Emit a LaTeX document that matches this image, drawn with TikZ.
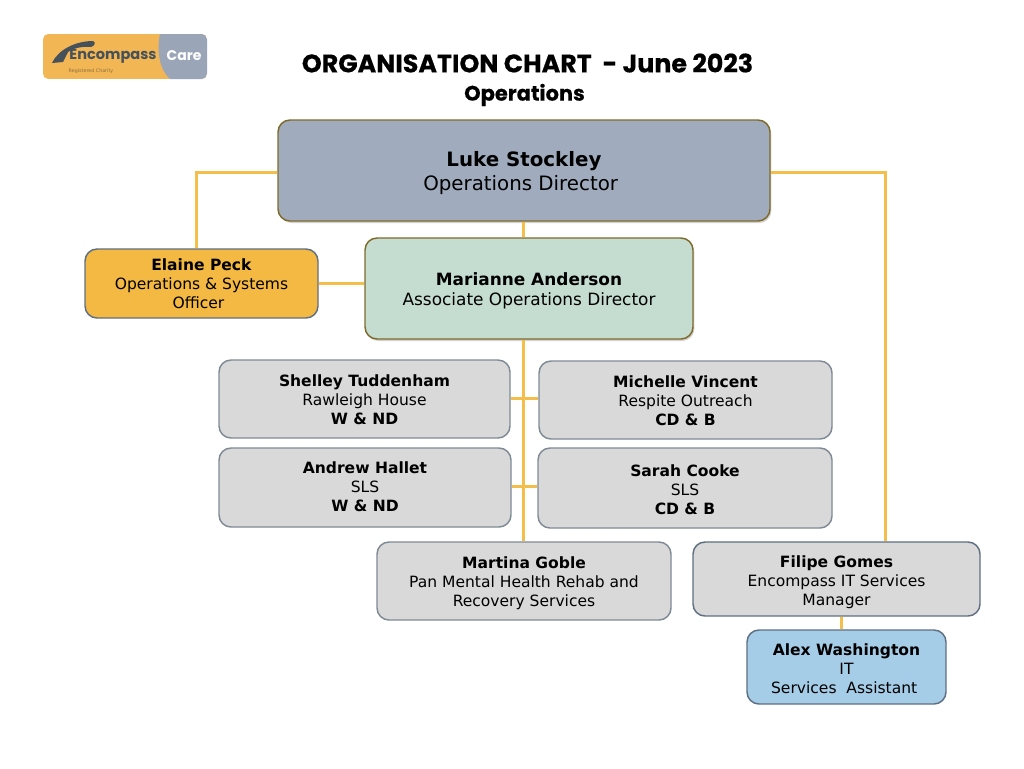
\documentclass[tikz,border=0pt]{standalone}
\usepackage{fontspec}
\setmainfont{DejaVu Sans}
\newfontfamily\titlefont{Poppins}[BoldFeatures={FakeBold=0.4}]
\newfontfamily\logofont{Poppins}
\usetikzlibrary{shadows}
\newcommand{\fsz}[2]{\fontsize{#1}{#2}\selectfont}
% block of centred lines, lowered from the centre of its box
\newcommand{\tx}[2]{\raisebox{\dimexpr-#1-0.25em\relax}[0pt][0pt]{\begin{tabular}{@{}c@{}}#2\end{tabular}}}
\newcommand{\nudge}[1]{\hspace*{#1}\mbox{}}
\definecolor{linkc}{HTML}{F4BE4A}
\definecolor{lukec}{HTML}{A0ACBD}
\definecolor{mariannec}{HTML}{C5DDD0}
\definecolor{elainec}{HTML}{F4B942}
\definecolor{greyc}{HTML}{D9D9D9}
\definecolor{alexc}{HTML}{A5CDE8}
\definecolor{brownc}{HTML}{7F6A2B}
\definecolor{slatec}{HTML}{5F7083}
\definecolor{greyline}{HTML}{7F8A94}
\definecolor{logoc}{HTML}{F2B654}
\definecolor{logog}{HTML}{9AA5B8}
\definecolor{logod}{HTML}{47515A}
\definecolor{logot}{HTML}{8A7040}
\tikzset{
  x=0.75pt,y=-0.75pt,
  box/.style={draw,line width=1.1pt,rounded corners=9pt,inner sep=0pt,text=black},
  bigbox/.style={box,draw=brownc,font=\fsz{14.85pt}{18pt},drop shadow={shadow xshift=1pt,shadow yshift=-1.5pt,opacity=0.35}},
  midbox/.style={box,draw=brownc,font=\fsz{12.7pt}{15.2pt},drop shadow={shadow xshift=1pt,shadow yshift=-1.5pt,opacity=0.35}},
  smallbox/.style={box,draw=greyline,fill=greyc,font=\fsz{11.65pt}{14.2pt}},
  link/.style={draw=linkc,line width=2.25pt},
}
\begin{document}
\begin{tikzpicture}
\useasboundingbox (0,0) rectangle (1024,768);
\fill[white] (0,0) rectangle (1024,768);
% logo
\begin{scope}
\clip[rounded corners=4pt] (43,34) rectangle (207,79);
\fill[logoc] (43,34) rectangle (207,79);
\fill[logog] (160,34) .. controls (157,48) and (158,68) .. (170,79) -- (207,79) -- (207,34) -- cycle;
\end{scope}
\fill[logod] (52,63) .. controls (58,50) and (75,41) .. (93,41) .. controls (96,42) and (95,46) .. (91,47) .. controls (80,46) and (72,49) .. (68,52) -- (63,62) -- cycle;
\node[inner sep=0pt,text=logod,font=\logofont\bfseries\fsz{10.9pt}{12pt}] (enc) at (113,56) {Encompass};
\node[inner sep=0pt,text=white,font=\logofont\bfseries\fsz{10.5pt}{12pt}] (care) at (184,56) {Care};
\node[inner sep=0pt,text=logot,font=\fsz{3.6pt}{4pt}] (reg) at (91,71.5) {Registered Charity};
% title
\node[inner sep=0pt,font=\titlefont\bfseries\fsz{19pt}{22pt}] (title) at (527.5,63) {ORGANISATION CHART \ - June 2023};
\node[inner sep=0pt,font=\titlefont\bfseries\fsz{15.7pt}{18pt}] (sub) at (524.5,95) {Operations};
% boxes
\node[bigbox,fill=lukec,minimum width=369pt,minimum height=75.75pt] (luke) at (524,170.5) {\tx{2.25pt}{\textbf{Luke Stockley}\\Operations Director\nudge{5pt}}};
\node[midbox,fill=mariannec,minimum width=246pt,minimum height=75.75pt] (marianne) at (529,288.5) {\tx{2.25pt}{\textbf{Marianne Anderson}\\Associate Operations Director}};
\node[smallbox,fill=elainec,draw=slatec,minimum width=174.75pt,minimum height=51.75pt] (elaine) at (201.5,283.5) {\tx{1.9pt}{\textbf{Elaine Peck}\\Operations \& Systems\\Officer\nudge{4.5pt}}};
\node[smallbox,minimum width=218.25pt,minimum height=58.5pt] (shelley) at (364.5,399) {\tx{2.25pt}{\textbf{Shelley Tuddenham}\\Rawleigh House\\\textbf{W \& ND}}};
\node[smallbox,minimum width=219.75pt,minimum height=58.5pt] (michelle) at (685.5,400) {\tx{1.9pt}{\textbf{Michelle Vincent}\\Respite Outreach\\\textbf{CD \& B}}};
\node[smallbox,minimum width=219pt,minimum height=59.25pt] (andrew) at (365,487.5) {\tx{1.1pt}{\textbf{Andrew Hallet}\\SLS\\\textbf{W \& ND}}};
\node[smallbox,minimum width=220.5pt,minimum height=60pt] (sarah) at (685,488) {\tx{2.6pt}{\textbf{Sarah Cooke}\\SLS\\\textbf{CD \& B}}};
\node[smallbox,minimum width=220.5pt,minimum height=58.5pt] (martina) at (524,581) {\tx{2.25pt}{\textbf{Martina Goble}\\Pan Mental Health Rehab and\\Recovery Services}};
\node[smallbox,draw=slatec,minimum width=215.25pt,minimum height=55.5pt] (filipe) at (836.5,579) {\tx{2.6pt}{\textbf{Filipe Gomes}\\Encompass IT Services\\Manager}};
\node[smallbox,fill=alexc,draw=slatec,minimum width=149.25pt,minimum height=55.5pt] (alex) at (846.5,667) {\tx{2.6pt}{\textbf{Alex Washington}\\IT\\Services\ \ Assistant\nudge{3.5pt}}};
% connector guides
\coordinate (ly) at (0,172);
\coordinate (lx) at (196,0);
\coordinate (rx) at (885,0);
\coordinate (mx) at (523.5,0);
\coordinate (ay) at (0,398);
\coordinate (by) at (0,486);
\coordinate (fx) at (841,0);
% connectors
\draw[link] (luke.west |- ly) -| (lx |- elaine.north);
\draw[link] (luke.east |- ly) -| (rx |- filipe.north);
\draw[link] (mx |- luke.south) -- (mx |- marianne.north);
\draw[link] (mx |- marianne.south) -- (mx |- martina.north);
\draw[link] (elaine.east) -- (marianne.west |- elaine.east);
\draw[link] (shelley.east |- ay) -- (michelle.west |- ay);
\draw[link] (andrew.east |- by) -- (sarah.west |- by);
\draw[link] (fx |- filipe.south) -- (fx |- alex.north);
\end{tikzpicture}
\end{document}
